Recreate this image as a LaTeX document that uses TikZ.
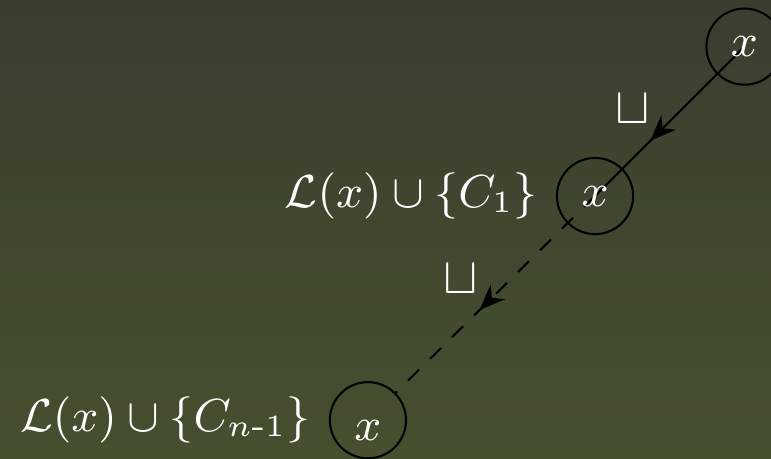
\documentclass[tikz,border=0pt]{standalone}
\usepackage{amsmath}
\usepackage{tikz}
\usetikzlibrary{arrows.meta, positioning, decorations.markings, backgrounds}
\definecolor{bgtop}{HTML}{393F2F}
\definecolor{bgbottom}{HTML}{45502F}
\tikzset{
  tab node/.style={
    circle, draw=black, text=white,
    minimum size=0.52cm, inner sep=0pt,
    font=\fontsize{9.25pt}{11pt}\selectfont
  },
  tab text/.style={
    text=white, font=\fontsize{9.25pt}{11pt}\selectfont
  },
  tab arrow/.style={
    draw=black, postaction={decorate},
    decoration={markings, mark=at position #1 with {\arrow{Stealth[length=5pt, width=4pt]}}}
  },
  tab label/.style={
    text=white, inner sep=0pt, shift={(-3.8pt,5.8pt)}
  }
}

\begin{document}
\begin{tikzpicture}[on grid]
  \useasboundingbox (0,0) rectangle (5.262,3.126);
  \node (top) [tab node] at (5.081,2.808) {$x$};
  \node (mid) [tab node, below left=1.02cm and 1.02cm of top,
    label={[tab text]left:$\mathcal{L}(x)\cup\{C_1\}$}] {$x$};
  \node (bot) [tab node, below left=1.53cm and 1.55cm of mid, text height=8pt,
    label={[tab text]left:$\mathcal{L}(x)\cup\{C_{n\text{-}1}\}$}] {$x$};

  \begin{scope}[on background layer]
    \shade [top color=bgtop, bottom color=bgbottom] (0,0) rectangle (5.262,3.126);
    \draw [tab arrow=0.63] (top.center) -- node [pos=0.62, tab label] {$\sqcup$} (mid.center);
    \draw [tab arrow=0.58, dashed] (mid.center) -- node [pos=0.575, tab label] {$\sqcup$} (bot);
  \end{scope}
\end{tikzpicture}
\end{document}
